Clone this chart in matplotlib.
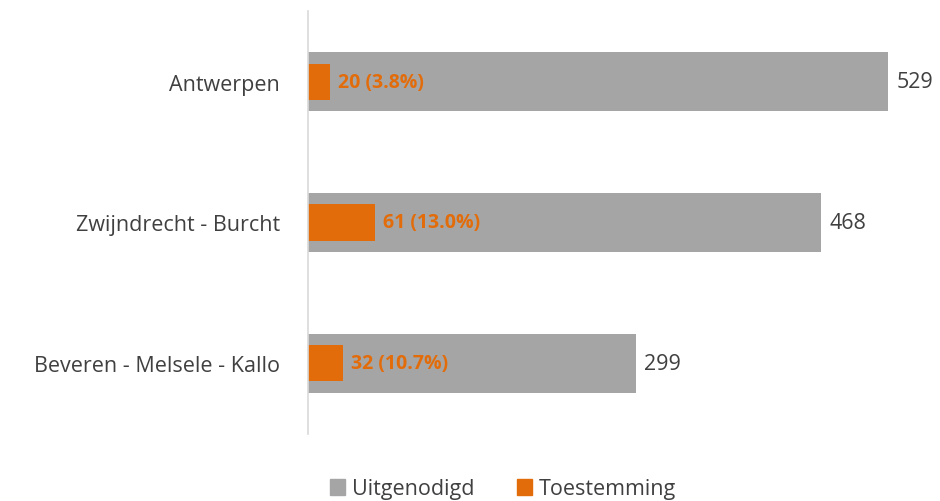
import matplotlib
matplotlib.use("Agg")
import matplotlib.pyplot as plt
from matplotlib.patches import Patch

# data
regions = ["Antwerpen", "Zwijndrecht - Burcht", "Beveren - Melsele - Kallo"]
invited = [529, 468, 299]
consent = [20, 61, 32]
consent_labels = ["20 (3.8%)", "61 (13.0%)", "32 (10.7%)"]

gray = "#A5A5A5"
orange = "#E36C0A"
txt = "#404040"

plt.rcParams['font.family'] = ['Open Sans', 'DejaVu Sans']

fig = plt.figure(figsize=(9.4, 5.02), dpi=100)
ax = fig.add_axes([308 / 940, 1 - 435 / 502, (930 - 308) / 940, (435 - 12) / 502])

y = list(range(len(regions)))
ax.barh(y, invited, height=0.42, color=gray)
ax.barh(y, consent, height=0.26, color=orange)

for i in y:
    ax.annotate(str(invited[i]), (invited[i], i), xytext=(6, 0), textcoords="offset points",
                va="center", ha="left", fontsize=15.5, color=txt)
    ax.annotate(consent_labels[i], (consent[i], i), xytext=(6, 0), textcoords="offset points",
                va="center", ha="left", fontsize=14, color=orange, fontweight="bold")

ax.set_xlim(0, (930 - 308) / ((888 - 308) / 529))
ax.set_ylim(2.504, -0.504)
ax.set_yticks(y)
ax.set_yticklabels(regions, fontsize=15.5, color=txt)
ax.tick_params(axis="y", length=0, pad=20)
ax.set_xticks([])
for s in ["top", "right", "bottom"]:
    ax.spines[s].set_visible(False)
ax.spines["left"].set_color("#D9D9D9")
ax.spines["left"].set_linewidth(1.2)

handles = [Patch(color=gray, label="Uitgenodigd"), Patch(color=orange, label="Toestemming")]
fig.legend(handles=handles, loc="center", bbox_to_anchor=(503 / 940, 1 - 490 / 502), ncol=2,
           frameon=False, fontsize=15.5, handlelength=0.7, handleheight=0.7,
           handletextpad=0.3, columnspacing=2.0, labelcolor=txt)

fig.savefig("out.png", dpi=100)
